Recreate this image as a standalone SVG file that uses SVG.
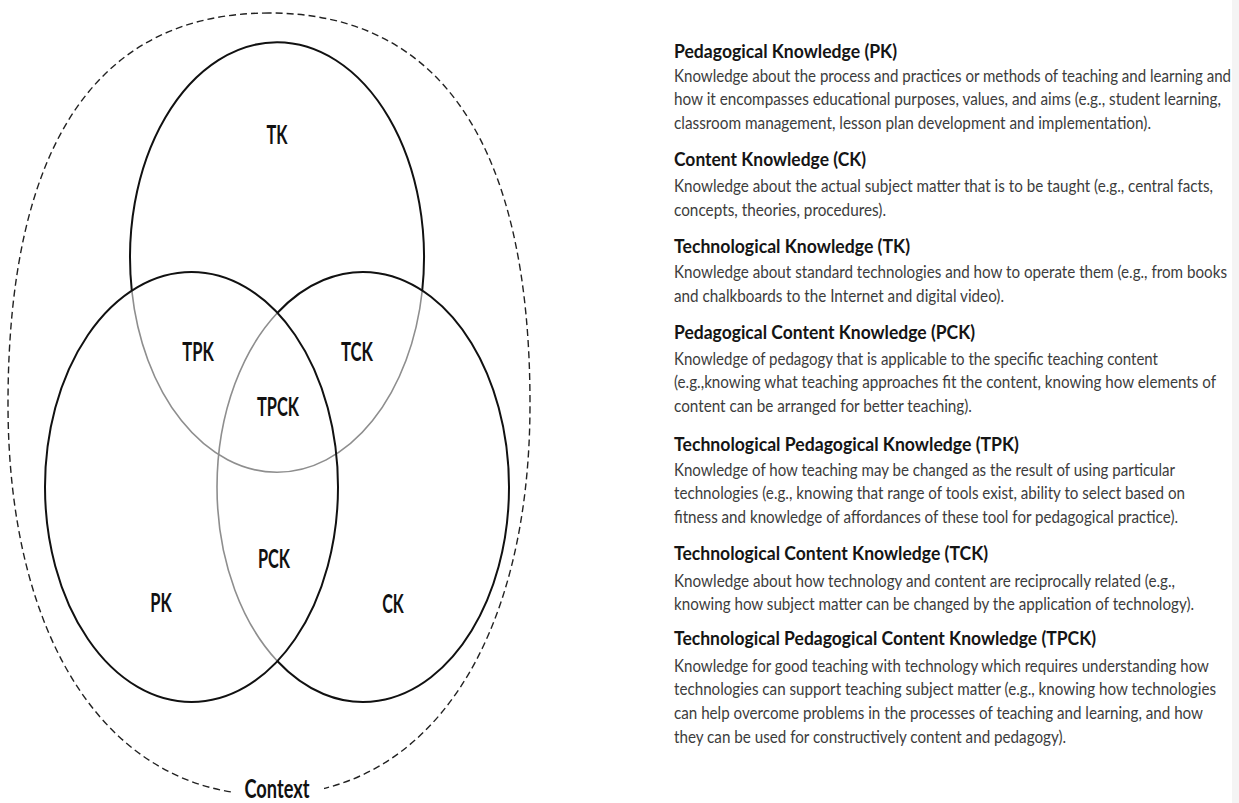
<svg xmlns="http://www.w3.org/2000/svg" width="1239" height="803" viewBox="0 0 1239 803">
<style>
.blk{fill:none;stroke:#111;stroke-width:2}
.gry{fill:none;stroke:#8e8e8e;stroke-width:1.6}
.ctx{fill:none;stroke:#222;stroke-width:1.4;stroke-dasharray:7 4}
.lbl{font-family:Lato,"Liberation Sans",sans-serif;font-weight:bold;font-size:26px;fill:#111;text-anchor:middle}
.h{font-family:Lato,"Liberation Sans",sans-serif;font-weight:bold;font-size:18.5px;fill:#151515}
.b{font-family:Lato,"Liberation Sans",sans-serif;font-size:16.5px;fill:#3c3c3c}
</style>
<defs>
<clipPath id="gap"><path clip-rule="evenodd" d="M0 0H1239V803H0Z M232 768H324V803H232Z"/></clipPath>
</defs>
<rect x="0" y="0" width="1239" height="803" fill="#fff"/>
<rect x="1232" y="0" width="7" height="803" fill="#f4f4f4"/>

<g id="context">
<path class="ctx" clip-path="url(#gap)" d="M269 13 C96.7 13 8 145.9 8 404 C8 642.5 109.8 795 269 795 C428.2 795 530 642.5 530 404 C530 145.9 441.3 13 269 13 Z"/>
<text class="lbl" x="277" y="798" textLength="65" lengthAdjust="spacingAndGlyphs">Context</text>
</g>

<g id="connectors">
<path class="gry" d="M422.2 291 A147 215 0 0 1 131.8 290.6"/>
<path class="gry" d="M277.25 661 A146 215 0 0 1 277.25 313"/>
</g>

<g id="tk">
<path class="blk" d="M131.8 290.6 A147 215 0 1 1 422.2 291"/>
<text class="lbl" x="277" y="144" textLength="21" lengthAdjust="spacingAndGlyphs">TK</text>
</g>
<g id="pk">
<ellipse class="blk" cx="191.5" cy="487" rx="146.5" ry="215"/>
<text class="lbl" x="161" y="612" textLength="21.5" lengthAdjust="spacingAndGlyphs">PK</text>
</g>
<g id="ck">
<path class="blk" d="M277.25 313 A146 215 0 1 1 277.25 661"/>
<text class="lbl" x="393" y="613" textLength="21.5" lengthAdjust="spacingAndGlyphs">CK</text>
</g>
<g id="tpk"><text class="lbl" x="198" y="361" textLength="31.5" lengthAdjust="spacingAndGlyphs">TPK</text></g>
<g id="tck"><text class="lbl" x="357" y="361" textLength="32" lengthAdjust="spacingAndGlyphs">TCK</text></g>
<g id="tpck"><text class="lbl" x="278" y="416" textLength="42" lengthAdjust="spacingAndGlyphs">TPCK</text></g>
<g id="pck"><text class="lbl" x="274" y="568" textLength="32" lengthAdjust="spacingAndGlyphs">PCK</text></g>

<g id="legend" transform="translate(674 0) scale(0.9 1)">
<text class="h" x="0" y="58" textLength="247.8" lengthAdjust="spacingAndGlyphs">Pedagogical Knowledge (PK)</text>
<text class="b" x="0" y="82" textLength="618.9" lengthAdjust="spacingAndGlyphs">Knowledge about the process and practices or methods of teaching and learning and</text>
<text class="b" x="0" y="105.5" textLength="607.8" lengthAdjust="spacingAndGlyphs">how it encompasses educational purposes, values, and aims (e.g., student learning,</text>
<text class="b" x="0" y="129" textLength="530" lengthAdjust="spacingAndGlyphs">classroom management, lesson plan development and implementation).</text>

<text class="h" x="0" y="166" textLength="213.3" lengthAdjust="spacingAndGlyphs">Content Knowledge (CK)</text>
<text class="b" x="0" y="192" textLength="598.9" lengthAdjust="spacingAndGlyphs">Knowledge about the actual subject matter that is to be taught (e.g., central facts,</text>
<text class="b" x="0" y="216" textLength="235.6" lengthAdjust="spacingAndGlyphs">concepts, theories, procedures).</text>

<text class="h" x="0" y="253" textLength="262.2" lengthAdjust="spacingAndGlyphs">Technological Knowledge (TK)</text>
<text class="b" x="0" y="278" textLength="614.4" lengthAdjust="spacingAndGlyphs">Knowledge about standard technologies and how to operate them (e.g., from books</text>
<text class="b" x="0" y="302" textLength="366.7" lengthAdjust="spacingAndGlyphs">and chalkboards to the Internet and digital video).</text>

<text class="h" x="0" y="339" textLength="334.4" lengthAdjust="spacingAndGlyphs">Pedagogical Content Knowledge (PCK)</text>
<text class="b" x="0" y="365" textLength="537.8" lengthAdjust="spacingAndGlyphs">Knowledge of pedagogy that is applicable to the specific teaching content</text>
<text class="b" x="0" y="388" textLength="602.2" lengthAdjust="spacingAndGlyphs">(e.g.,knowing what teaching approaches fit the content, knowing how elements of</text>
<text class="b" x="0" y="412" textLength="331.1" lengthAdjust="spacingAndGlyphs">content can be arranged for better teaching).</text>

<text class="h" x="0" y="451" textLength="383.3" lengthAdjust="spacingAndGlyphs">Technological Pedagogical Knowledge (TPK)</text>
<text class="b" x="0" y="476" textLength="556.7" lengthAdjust="spacingAndGlyphs">Knowledge of how teaching may be changed as the result of using particular</text>
<text class="b" x="0" y="499" textLength="567.8" lengthAdjust="spacingAndGlyphs">technologies (e.g., knowing that range of tools exist, ability to select based on</text>
<text class="b" x="0" y="523" textLength="560" lengthAdjust="spacingAndGlyphs">fitness and knowledge of affordances of these tool for pedagogical practice).</text>

<text class="h" x="0" y="560" textLength="348.9" lengthAdjust="spacingAndGlyphs">Technological Content Knowledge (TCK)</text>
<text class="b" x="0" y="587" textLength="556.7" lengthAdjust="spacingAndGlyphs">Knowledge about how technology and content are reciprocally related (e.g.,</text>
<text class="b" x="0" y="610" textLength="577.8" lengthAdjust="spacingAndGlyphs">knowing how subject matter can be changed by the application of technology).</text>

<text class="h" x="0" y="645" textLength="468.9" lengthAdjust="spacingAndGlyphs">Technological Pedagogical Content Knowledge (TPCK)</text>
<text class="b" x="0" y="672" textLength="594.4" lengthAdjust="spacingAndGlyphs">Knowledge for good teaching with technology which requires understanding how</text>
<text class="b" x="0" y="695" textLength="602.2" lengthAdjust="spacingAndGlyphs">technologies can support teaching subject matter (e.g., knowing how technologies</text>
<text class="b" x="0" y="719" textLength="587.8" lengthAdjust="spacingAndGlyphs">can help overcome problems in the processes of teaching and learning, and how</text>
<text class="b" x="0" y="743" textLength="435.6" lengthAdjust="spacingAndGlyphs">they can be used for constructively content and pedagogy).</text>
</g>
</svg>
